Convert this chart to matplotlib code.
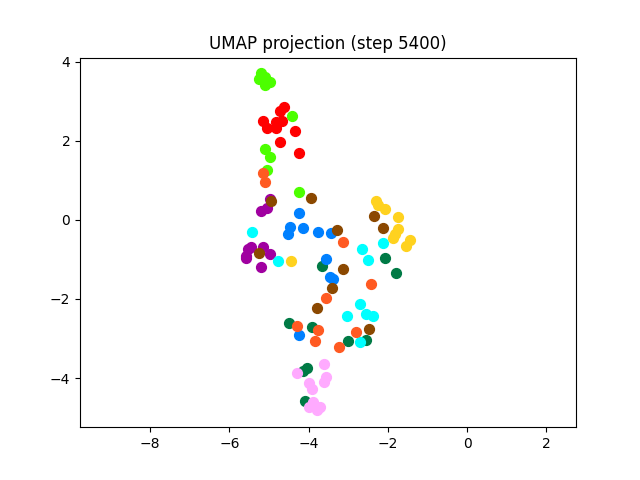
"""UMAP projection scatter of embeddings, coloured by class."""

import matplotlib
matplotlib.use("Agg")
import matplotlib.pyplot as plt

# class colours (drawing order)
colors = ["#4cff00", "#ff0000", "#a000a0", "#007a45", "#0080ff",
          "#8b4800", "#00ffff", "#ffd21f", "#ff5a22", "#ffaaff"]

xs = [
    [-5.21, -5.26, -5.11, -4.98, -5.11, -4.42, -5.09, -4.98, -5.04, -4.23],
    [-4.61, -4.71, -5.14, -4.83, -4.66, -5.06, -4.81, -4.35, -4.71, -4.23],
    [-4.98, -5.04, -5.19, -5.46, -5.54, -5.16, -5.59, -5.57, -4.98, -5.21],
    [-3.67, -2.08, -1.80, -4.50, -3.92, -3.01, -2.56, -4.15, -4.03, -4.08],
    [-4.25, -4.48, -4.53, -4.15, -3.77, -3.44, -3.55, -3.47, -3.39, -4.23],
    [-4.96, -3.95, -5.24, -3.29, -3.12, -3.42, -3.80, -2.36, -2.13, -2.48],
    [-5.44, -4.78, -2.66, -2.51, -2.11, -2.69, -3.04, -2.54, -2.38, -2.69],
    [-2.31, -2.26, -2.06, -1.75, -1.75, -1.83, -1.88, -1.43, -1.53, -4.45],
    [-5.14, -5.11, -3.14, -2.43, -3.55, -4.28, -3.77, -3.85, -2.81, -3.24],
    [-4.28, -3.60, -4.00, -3.92, -3.55, -3.62, -3.90, -4.00, -3.72, -3.80],
]
ys = [
    [3.70, 3.57, 3.62, 3.49, 3.42, 2.63, 1.80, 1.59, 1.27, 0.71],
    [2.86, 2.76, 2.51, 2.48, 2.51, 2.33, 2.33, 2.25, 1.97, 1.70],
    [0.53, 0.30, 0.23, -0.68, -0.73, -0.68, -0.96, -0.91, -0.86, -1.19],
    [-1.16, -0.96, -1.34, -2.61, -2.71, -3.06, -3.04, -3.82, -3.75, -4.58],
    [0.18, -0.18, -0.35, -0.20, -0.30, -0.33, -0.99, -1.44, -1.49, -2.91],
    [0.48, 0.56, -0.84, -0.25, -1.24, -1.72, -2.23, 0.10, -0.20, -2.76],
    [-0.30, -1.04, -0.73, -1.01, -0.58, -2.13, -2.43, -2.38, -2.43, -3.09],
    [0.48, 0.38, 0.28, 0.08, -0.23, -0.35, -0.46, -0.51, -0.66, -1.04],
    [1.19, 0.96, -0.56, -1.62, -1.97, -2.68, -2.78, -3.06, -2.84, -3.22],
    [-3.87, -3.65, -4.13, -4.28, -3.97, -4.10, -4.61, -4.73, -4.73, -4.81],
]

fig, ax = plt.subplots(figsize=(6.4, 4.8), dpi=100)
for x, y, c in zip(xs, ys, colors):
    ax.scatter(x, y, s=50, c=c)

ax.set_xlim(-9.77, 2.75)
ax.set_ylim(-5.24, 4.10)
ax.set_title("UMAP projection (step 5400)")

plt.savefig("out.png", dpi=100)
plt.close()
